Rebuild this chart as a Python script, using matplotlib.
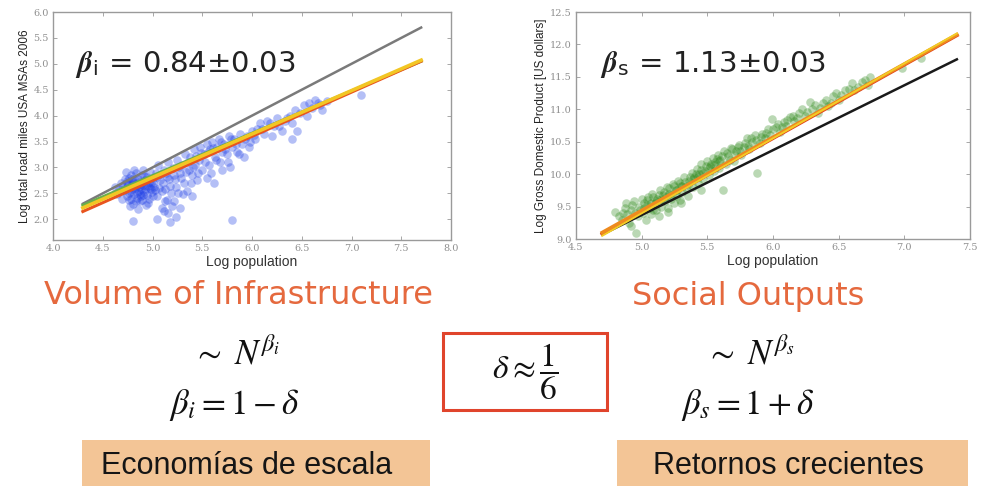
import matplotlib
matplotlib.use("Agg")
import matplotlib.pyplot as plt
from matplotlib.patches import Rectangle

plt.rcParams['mathtext.fontset'] = 'stix'

# infrastructure: log population vs log road miles
infra_x = [4.62, 4.68, 4.70, 4.72, 4.74, 4.75, 4.76, 4.78, 4.78, 4.80, 4.80, 4.82, 4.83, 4.84,
           4.85, 4.86, 4.87, 4.88, 4.89, 4.90, 4.91, 4.92, 4.93, 4.94, 4.95, 4.96, 4.97, 4.98,
           4.99, 5.00, 4.73, 4.77, 4.81, 4.85, 4.90, 4.95, 4.70, 4.79, 4.88, 4.93, 4.76, 4.82,
           4.86, 4.91, 4.84, 4.79, 4.74, 4.97,
           5.02, 5.04, 5.05, 5.06, 5.08, 5.10, 5.12, 5.13, 5.15, 5.16, 5.18, 5.20, 5.21, 5.23,
           5.25, 5.26, 5.28, 5.30, 5.32, 5.33, 5.35, 5.37, 5.38, 5.40, 5.42, 5.43, 5.45, 5.47,
           5.48, 5.50,
           4.80, 5.05, 5.18, 5.16, 5.80, 5.10, 5.22,
           5.52, 5.55, 5.57, 5.58, 5.60, 5.62, 5.63, 5.65, 5.67, 5.68, 5.70, 5.72, 5.75, 5.77,
           5.78, 5.80, 5.82, 5.85, 5.88, 5.90, 5.92, 5.95, 5.98, 6.00,
           6.03, 6.05, 6.08, 6.12, 6.15, 6.20, 6.22, 6.25, 6.30, 6.33, 6.38, 6.40, 6.45, 6.48,
           6.52, 6.55, 6.60, 6.63, 6.66, 6.70, 6.75, 7.10, 6.40,
           4.72, 4.74, 4.76, 4.77, 4.78, 4.79, 4.81, 4.82, 4.83, 4.84, 4.86, 4.87, 4.88, 4.89,
           4.90, 4.91, 4.92, 4.94, 4.96, 4.98, 5.00, 5.01, 5.03, 5.05, 5.07, 5.09, 5.11, 5.13,
           5.14, 5.17, 5.19, 5.22, 5.24, 5.27, 5.29, 5.31, 5.34, 5.36, 5.39, 5.41, 5.44, 5.46,
           5.49, 5.53, 5.56, 5.59, 5.61, 5.64, 5.69, 5.73, 5.76, 5.79, 5.84, 5.87, 5.93, 5.97,
           6.02, 6.10, 6.18, 6.27, 6.35, 6.43, 6.57, 6.68, 4.66, 4.64, 4.69, 5.15, 5.28, 5.12,
           5.24, 5.40, 5.55, 5.70]
infra_y = [2.62, 2.70, 2.55, 2.78, 2.45, 2.66, 2.38, 2.85, 2.52, 2.72, 2.30, 2.60, 2.90, 2.42,
           2.78, 2.55, 2.35, 2.68, 2.86, 2.47, 2.74, 2.58, 2.28, 2.82, 2.64, 2.40, 2.92, 2.70,
           2.52, 2.80, 2.92, 2.25, 2.95, 2.20, 2.96, 2.32, 2.62, 2.68, 2.45, 2.65, 2.80, 2.76,
           2.62, 2.84, 2.50, 2.58, 2.70, 2.60,
           2.62, 2.90, 2.45, 3.05, 2.75, 2.55, 2.95, 2.35, 2.82, 3.10, 2.65, 2.25, 2.98, 2.78,
           3.15, 2.50, 2.90, 3.05, 2.70, 3.25, 2.55, 2.95, 3.20, 2.85, 3.35, 3.05, 2.75, 3.15,
           3.40, 2.95,
           1.97, 2.00, 1.95, 2.12, 1.98, 2.22, 2.35,
           3.25, 3.45, 3.05, 3.35, 3.50, 2.70, 3.20, 3.40, 3.55, 3.10, 3.30, 3.45, 3.25, 3.60,
           3.00, 3.40, 3.55, 3.30, 3.65, 3.45, 3.20, 3.60, 3.50, 3.70,
           3.55, 3.75, 3.85, 3.65, 3.90, 3.60, 3.80, 3.95, 3.70, 3.90, 4.00, 3.85, 3.70, 4.05,
           4.20, 4.00, 4.15, 4.30, 4.25, 4.10, 4.28, 4.40, 3.55,
           2.58, 2.74, 2.50, 2.62, 2.40, 2.78, 2.48, 2.68, 2.36, 2.64, 2.72, 2.48, 2.58, 2.38,
           2.66, 2.52, 2.76, 2.46, 2.72, 2.58, 2.44, 2.70, 2.56, 2.82, 2.60, 2.88, 2.70, 2.58,
           2.90, 2.78, 2.50, 2.85, 2.62, 3.00, 2.80, 2.48, 2.92, 3.10, 2.70, 3.00, 3.22, 2.90,
           3.28, 3.10, 3.30, 2.90, 3.38, 3.15, 3.50, 3.35, 3.10, 3.55, 3.45, 3.25, 3.55, 3.40,
           3.62, 3.75, 3.85, 3.80, 3.95, 4.10, 4.25, 4.20, 2.58, 2.48, 2.40, 2.38, 2.22, 2.15,
           2.05, 2.45, 2.80, 2.95]

# social output: log population vs log GDP
gdp_x = [4.80, 4.85, 4.88, 4.90, 4.92, 4.94, 4.96, 4.97, 4.98, 5.00, 4.92, 4.87,
         5.01, 5.02, 5.03, 5.05, 5.06, 5.07, 5.08, 5.10, 5.11, 5.12, 5.13, 5.14, 5.15, 5.16,
         5.18, 5.19, 5.20, 5.21, 5.22, 5.24, 5.25, 5.26, 5.27, 5.28, 5.29, 5.30,
         5.31, 5.32, 5.34, 5.35, 5.36, 5.38, 5.39, 5.40, 5.42, 5.43, 5.44, 5.45, 5.47, 5.48,
         5.50, 5.51, 5.52, 5.54, 5.55, 5.56, 5.58, 5.59, 5.60, 5.62,
         5.63, 5.64, 5.66, 5.68, 5.70, 5.72, 5.74, 5.76, 5.78, 5.80, 5.82, 5.84, 5.86, 5.88,
         5.90, 5.92, 5.94, 5.96, 5.99, 5.98,
         6.02, 6.05, 6.08, 6.10, 6.13, 6.16, 6.20, 6.24, 6.28, 6.30, 6.34, 6.38, 6.42, 6.46,
         6.50, 6.55, 6.60, 6.65, 6.70, 6.74, 6.72, 6.98, 7.13,
         5.20, 5.30, 5.45, 5.04, 5.16, 5.09,
         4.83, 4.86, 4.89, 4.93, 4.95, 4.99, 5.02, 5.04, 5.07, 5.09, 5.11, 5.13, 5.15, 5.17,
         5.19, 5.21, 5.23, 5.25, 5.27, 5.29, 5.31, 5.33, 5.35, 5.37, 5.39, 5.41, 5.43, 5.45,
         5.47, 5.49, 5.51, 5.53, 5.55, 5.57, 5.59, 5.61, 5.65, 5.67, 5.69, 5.71, 5.73, 5.75,
         5.79, 5.81, 5.83, 5.87, 5.91, 5.95, 6.00, 6.04, 6.07, 6.11, 6.15, 6.18, 6.22, 6.26,
         6.32, 6.36, 6.40, 6.44, 6.48, 6.52, 6.58, 6.62, 6.68]
gdp_y = [9.42, 9.30, 9.55, 9.25, 9.45, 9.58, 9.09, 9.35, 9.50, 9.62, 9.20, 9.48,
         9.40, 9.55, 9.30, 9.65, 9.48, 9.38, 9.70, 9.55, 9.45, 9.62, 9.35, 9.75, 9.50, 9.68,
         9.58, 9.80, 9.48, 9.70, 9.62, 9.85, 9.55, 9.75, 9.66, 9.90, 9.60, 9.82,
         9.72, 9.95, 9.78, 9.66, 9.90, 10.02, 9.80, 9.95, 10.08, 9.86, 10.00, 10.15, 9.92, 10.05,
         10.20, 9.98, 10.12, 10.25, 10.05, 10.18, 10.30, 10.10, 10.22, 9.75,
         10.35, 10.15, 10.28, 10.40, 10.20, 10.35, 10.45, 10.30, 10.42, 10.55, 10.38, 10.50,
         10.60, 10.02, 10.48, 10.62, 10.55, 10.70, 10.85, 10.60,
         10.72, 10.65, 10.80, 10.75, 10.88, 10.82, 10.95, 10.90, 11.11, 11.00, 10.95, 11.10,
         11.05, 11.20, 11.15, 11.30, 11.40, 11.35, 11.45, 11.50, 11.38, 11.63, 11.79,
         9.42, 9.55, 9.75, 9.52, 9.60, 9.44,
         9.35, 9.40, 9.38, 9.52, 9.40, 9.45, 9.48, 9.60, 9.55, 9.64, 9.58, 9.68, 9.62, 9.72,
         9.66, 9.78, 9.70, 9.82, 9.76, 9.86, 9.82, 9.88, 9.84, 9.96, 9.92, 10.00, 9.96, 10.06,
         10.02, 10.12, 10.10, 10.16, 10.14, 10.24, 10.20, 10.28, 10.32, 10.22, 10.38, 10.30,
         10.42, 10.36, 10.48, 10.44, 10.56, 10.52, 10.58, 10.64, 10.70, 10.78, 10.72, 10.84,
         10.90, 10.86, 11.00, 10.96, 11.06, 11.02, 11.14, 11.10, 11.25, 11.22, 11.32, 11.30,
         11.42]

# fitted lines (end points)
infra_fit_x = [4.3, 7.7]
infra_linear = [2.30, 5.70]
infra_green = [2.27, 5.05]
infra_yellow = [2.22, 5.07]
infra_red = [2.15, 5.05]

gdp_fit_x = [4.70, 7.40]
gdp_linear = [9.07, 11.77]
gdp_red = [9.08, 12.14]
gdp_orange = [9.10, 12.15]
gdp_yellow = [9.05, 12.17]

W, H = 981, 486
fig = plt.figure(figsize=(W / 100, H / 100), dpi=100)


def fpos(x, y):
    return x / W, 1 - y / H


def style_axes(ax, xticks, yticks):
    ax.set_xticks(xticks)
    ax.set_yticks(yticks)
    ax.set_xticklabels(['%.1f' % t for t in xticks])
    ax.set_yticklabels(['%.1f' % t for t in yticks])
    ax.tick_params(direction='in', length=3, width=0.6, color='#999999',
                   labelsize=7, labelcolor='#8f8f8f', top=True, right=True, pad=3)
    for lab in ax.get_xticklabels() + ax.get_yticklabels():
        lab.set_family('DejaVu Serif')
    for s in ax.spines.values():
        s.set_color('#9a9a9a')
        s.set_linewidth(1.0)


# left panel
ax1 = fig.add_axes([53 / W, 1 - 240 / H, 398 / W, 228 / H])
ax1.scatter(infra_x, infra_y, s=38, color='#1e3ee6', alpha=0.33, linewidths=0, zorder=2)
ax1.plot(infra_fit_x, infra_linear, color='#7a7a7a', lw=1.8, zorder=3)
ax1.plot(infra_fit_x, infra_green, color='#6aae4a', lw=2.2, zorder=3)
ax1.plot(infra_fit_x, infra_yellow, color='#f2c624', lw=2.6, zorder=4)
ax1.plot(infra_fit_x, infra_red, color='#e8541e', lw=2.2, zorder=3)
ax1.set_xlim(4.0, 8.0)
ax1.set_ylim(1.6, 6.0)
style_axes(ax1, [4.0, 4.5, 5.0, 5.5, 6.0, 6.5, 7.0, 7.5, 8.0],
           [2.0, 2.5, 3.0, 3.5, 4.0, 4.5, 5.0, 5.5, 6.0])
ax1.set_xlabel('Log population', family='Liberation Sans', fontsize=10, color='#333333', labelpad=1)
ax1.set_ylabel('Log total road miles USA MSAs 2006', family='Liberation Sans', fontsize=8.5,
               color='#222222', labelpad=2)
ax1.text(0.055, 0.77, r'$\mathbfit{\beta}_{\mathregular{i}}$ = 0.84±0.03', transform=ax1.transAxes,
         fontsize=21, family='DejaVu Sans', color='#222222', va='center', ha='left')

# right panel
ax2 = fig.add_axes([576 / W, 1 - 239 / H, 394 / W, 227 / H])
ax2.scatter(gdp_x, gdp_y, s=38, color='#2f8a1c', alpha=0.33, linewidths=0, zorder=2)
ax2.plot(gdp_fit_x, gdp_linear, color='#1a1a1a', lw=1.8, zorder=3)
ax2.plot(gdp_fit_x, gdp_red, color='#e0401c', lw=2.6, zorder=3)
ax2.plot(gdp_fit_x, gdp_orange, color='#ee8a1e', lw=2.6, zorder=4)
ax2.plot(gdp_fit_x, gdp_yellow, color='#f2cc26', lw=1.4, zorder=5)
ax2.set_xlim(4.5, 7.5)
ax2.set_ylim(9.0, 12.5)
style_axes(ax2, [4.5, 5.0, 5.5, 6.0, 6.5, 7.0, 7.5],
           [9.0, 9.5, 10.0, 10.5, 11.0, 11.5, 12.0, 12.5])
ax2.set_xlabel('Log population', family='Liberation Sans', fontsize=10, color='#333333', labelpad=1)
ax2.set_ylabel('Log Gross Domestic Product [US dollars]', family='Liberation Sans', fontsize=8.5,
               color='#222222', labelpad=2)
ax2.text(0.06, 0.77, r'$\mathbfit{\beta}_{\mathregular{s}}$ = 1.13±0.03', transform=ax2.transAxes,
         fontsize=21, family='DejaVu Sans', color='#222222', va='center', ha='left')

# headings
orange = '#e5693e'
fig.text(*fpos(238, 296), 'Volume of Infrastructure', color=orange, fontsize=23,
         family='DejaVu Sans', ha='center', va='center')
fig.text(*fpos(748, 296), 'Social Outputs', color=orange, fontsize=23,
         family='DejaVu Sans', ha='center', va='center')

# scaling relations
fig.text(*fpos(236, 354), r'$\sim\ N^{\beta_i}$', fontsize=25, ha='center', va='center', color='#111111')
fig.text(*fpos(234, 405), r'$\beta_i = 1 - \delta$', fontsize=25, ha='center', va='center', color='#111111')
fig.text(*fpos(750, 354), r'$\sim\ N^{\beta_s}$', fontsize=25, ha='center', va='center', color='#111111')
fig.text(*fpos(748, 405), r'$\beta_s = 1 + \delta$', fontsize=25, ha='center', va='center', color='#111111')

fig.add_artist(Rectangle(fpos(443, 410), 164 / W, 77 / H, transform=fig.transFigure,
                         facecolor='white', edgecolor='#e0442c', lw=2.2))
fig.text(*fpos(525, 372), r'$\delta \approx \dfrac{1}{6}$', fontsize=24, ha='center', va='center',
         color='#111111')

# bottom labels
beige = '#f3c596'
fig.add_artist(Rectangle(fpos(82, 486), 348 / W, 46 / H, transform=fig.transFigure,
                         facecolor=beige, edgecolor='none'))
fig.add_artist(Rectangle(fpos(617, 486), 351 / W, 46 / H, transform=fig.transFigure,
                         facecolor=beige, edgecolor='none'))
fig.text(*fpos(247, 466), 'Economías de escala', fontsize=22, family='Liberation Sans',
         ha='center', va='center', color='#151515')
fig.text(*fpos(788, 466), 'Retornos crecientes', fontsize=22, family='Liberation Sans',
         ha='center', va='center', color='#151515')

fig.savefig('out.png', dpi=100)
